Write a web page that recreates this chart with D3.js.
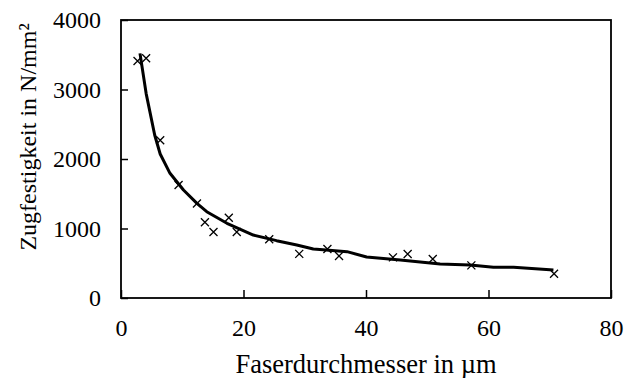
<!DOCTYPE html>
<html>
<head>
<meta charset="utf-8">
<script src="https://cdn.jsdelivr.net/npm/d3@7"></script>
</head>
<body style="margin:0">
<div id="chart"></div>
<script>
// measured points
const diameter = [2.7, 4.1, 6.4, 9.4, 12.4, 13.7, 15.1, 17.6, 18.9, 24.2, 29.1, 33.7, 35.6, 44.4, 46.8, 50.9, 57.2, 70.7];
const strength = [3410, 3450, 2270, 1625, 1360, 1090, 950, 1155, 950, 845, 635, 705, 605, 585, 633, 560, 470, 350];

// fitted curve
const fitDiameter = [3.1, 4.1, 5.5, 6.4, 8.0, 10.2, 12.4, 14.0, 17.3, 21.6, 25.4, 28.7, 31.4, 33.5, 36.9, 40.1, 45.6, 52.1, 57.0, 60.8, 64.1, 70.6];
const fitStrength = [3520, 2945, 2345, 2072, 1794, 1554, 1362, 1242, 1075, 906, 825, 763, 705, 690, 667, 590, 547, 489, 475, 441, 441, 403];

const xTicks = [0, 20, 40, 60, 80];
const yTicks = [0, 1000, 2000, 3000, 4000];

const serif = 'Liberation Serif';

const margin = {top: 20, right: 16, bottom: 80, left: 121};
const W = 627, H = 378;
const width = W - margin.left - margin.right;
const height = H - margin.top - margin.bottom;

const x = d3.scaleLinear().domain([0, 80]).range([0, width]);
const y = d3.scaleLinear().domain([0, 4000]).range([height, 0]);

const svg = d3.select('#chart').append('svg')
  .attr('width', W)
  .attr('height', H)
  .style('font-family', serif);

const g = svg.append('g')
  .attr('transform', 'translate(' + margin.left + ',' + margin.top + ')');

// axes, ticks inside
const xAxis = d3.axisBottom(x).tickValues(xTicks).tickSize(-8).tickPadding(21).tickFormat(d3.format('d'));
const yAxis = d3.axisLeft(y).tickValues(yTicks).tickSize(-7).tickPadding(20).tickFormat(d3.format('d'));

function styleAxis(a) {
  a.attr('font-family', serif).attr('font-size', 24);
  a.select('.domain').remove();
  a.selectAll('.tick line').attr('stroke', '#000').attr('stroke-width', 1.5);
  a.selectAll('.tick text')
    .attr('fill', '#000')
    .style('font-family', serif);
}

g.append('g')
  .attr('transform', 'translate(0,' + height + ')')
  .call(xAxis)
  .call(styleAxis);

g.append('g')
  .call(yAxis)
  .call(styleAxis);

// frame
g.append('rect')
  .attr('width', width)
  .attr('height', height)
  .attr('fill', 'none')
  .attr('stroke', '#000')
  .attr('stroke-width', 1.8);

// fitted line
const fit = fitDiameter.map((d, i) => [d, fitStrength[i]]);
g.append('path')
  .datum(fit)
  .attr('fill', 'none')
  .attr('stroke', '#000')
  .attr('stroke-width', 3)
  .attr('stroke-linejoin', 'round')
  .attr('d', d3.line().x(d => x(d[0])).y(d => y(d[1])));

// cross markers
const s = 4;
g.append('g')
  .selectAll('path')
  .data(diameter.map((d, i) => [d, strength[i]]))
  .enter().append('path')
  .attr('fill', 'none')
  .attr('stroke', '#000')
  .attr('stroke-width', 1.3)
  .attr('d', d => {
    const cx = x(d[0]), cy = y(d[1]);
    return 'M' + (cx - s) + ',' + (cy - s) + 'L' + (cx + s) + ',' + (cy + s) +
      'M' + (cx - s) + ',' + (cy + s) + 'L' + (cx + s) + ',' + (cy - s);
  });

// axis titles
svg.append('text')
  .attr('x', 366)
  .attr('y', 373)
  .attr('text-anchor', 'middle')
  .attr('font-size', 26.5)
  .style('font-family', serif)
  .text('Faserdurchmesser in µm');

svg.append('text')
  .attr('transform', 'translate(36,137) rotate(-90)')
  .attr('text-anchor', 'middle')
  .attr('font-size', 24)
  .style('font-family', serif)
  .text('Zugfestigkeit in N/mm²');
</script>
</body>
</html>
